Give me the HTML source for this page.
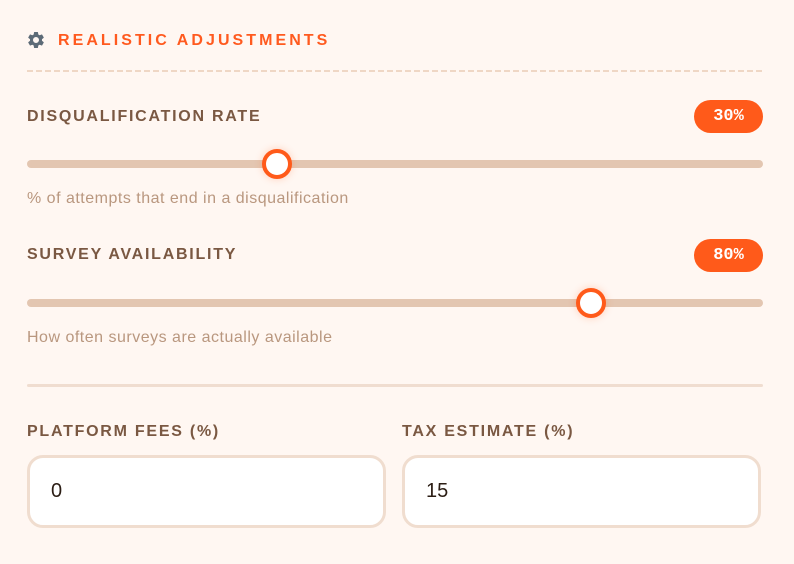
<!DOCTYPE html>
<html><head><meta charset="utf-8">
<style>
html,body{margin:0;padding:0;}
body{width:794px;height:564px;background:#fff7f2;position:relative;overflow:hidden;font-family:"Liberation Sans",sans-serif;}
.a{position:absolute;white-space:nowrap;}
.title{left:58px;top:32.5px;font-size:16px;line-height:16px;font-weight:bold;color:#ff5a1f;letter-spacing:3.05px;}
.lbl{font-size:16px;line-height:16px;font-weight:bold;color:#7a5842;letter-spacing:1.75px;}
.desc{font-size:16px;line-height:16px;color:#b9977f;letter-spacing:0.5px;}
.badge{left:694px;width:69px;height:33px;border-radius:17px;background:#ff5a1a;color:#fff;font-family:"Liberation Mono",monospace;font-weight:bold;font-size:17px;line-height:33px;text-align:center;}
.track{left:27px;width:736px;height:8px;border-radius:4px;background:#e3c6b1;}
.thumb{width:22px;height:22px;border:4px solid #ff5a1a;border-radius:50%;background:#fff;box-shadow:0 0 8px rgba(255,90,26,0.25);}
.dash{left:27px;top:70px;width:736px;height:2px;background:repeating-linear-gradient(90deg,#efd7c5 0 6px,transparent 6px 9px);}
.sep{left:27px;top:384px;width:736px;height:3px;border-radius:2px;background:#f0ddd0;}
.inp{top:455px;width:353px;height:67px;border:3px solid #f0ddcf;border-radius:16px;background:#fff;}
.val{font-size:20px;line-height:20px;color:#2b1d14;}
</style></head><body>
<svg class="a" style="left:25.5px;top:29.5px" width="20" height="20" viewBox="0 0 24 24">
<path fill="#5d6b77" d="M19.14 12.94c.04-.3.06-.61.06-.94 0-.32-.02-.64-.07-.94l2.03-1.58a.49.49 0 0 0 .12-.61l-1.920-3.32a.49.49 0 0 0-.59-.22l-2.39.96c-.5-.38-1.03-.7-1.62-.94l-.36-2.54a.48.48 0 0 0-.48-.41h-3.84c-.24 0-.43.17-.47.41l-.36 2.54c-.59.24-1.13.57-1.62.94l-2.39-.96a.48.48 0 0 0-.59.22L2.74 8.87a.47.47 0 0 0 .12.61l2.03 1.58c-.05.3-.09.63-.09.94s.02.64.07.94l-2.03 1.58a.49.49 0 0 0-.12.61l1.92 3.32c.12.22.37.29.59.22l2.39-.96c.5.38 1.03.7 1.62.94l.36 2.54c.05.24.24.41.48.41h3.84c.24 0 .44-.17.47-.41l.36-2.54c.59-.24 1.130-.56 1.62-.94l2.39.96c.22.08.47 0 .59-.22l1.92-3.32c.12-.22.07-.47-.12-.61l-2.01-1.58zM12 15.6A3.6 3.6 0 1 1 12 8.4a3.6 3.6 0 0 1 0 7.2z"/>
</svg>
<div class="a title">REALISTIC ADJUSTMENTS</div>
<div class="a dash"></div>

<div class="a lbl" style="left:27px;top:108.5px">DISQUALIFICATION RATE</div>
<div class="a badge" style="top:100px">30%</div>
<div class="a track" style="top:160px"></div>
<div class="a thumb" style="left:262px;top:149px"></div>
<div class="a desc" style="left:27px;top:191px">% of attempts that end in a disqualification</div>

<div class="a lbl" style="left:27px;top:246.5px">SURVEY AVAILABILITY</div>
<div class="a badge" style="top:239px">80%</div>
<div class="a track" style="top:299px"></div>
<div class="a thumb" style="left:576px;top:288px"></div>
<div class="a desc" style="left:27px;top:330px">How often surveys are actually available</div>

<div class="a sep"></div>

<div class="a lbl" style="left:27px;top:424px">PLATFORM FEES (%)</div>
<div class="a lbl" style="left:402px;top:424px">TAX ESTIMATE (%)</div>
<div class="a inp" style="left:27px"></div>
<div class="a inp" style="left:402px"></div>
<div class="a val" style="left:51px;top:481px">0</div>
<div class="a val" style="left:426px;top:481px">15</div>
</body></html>
